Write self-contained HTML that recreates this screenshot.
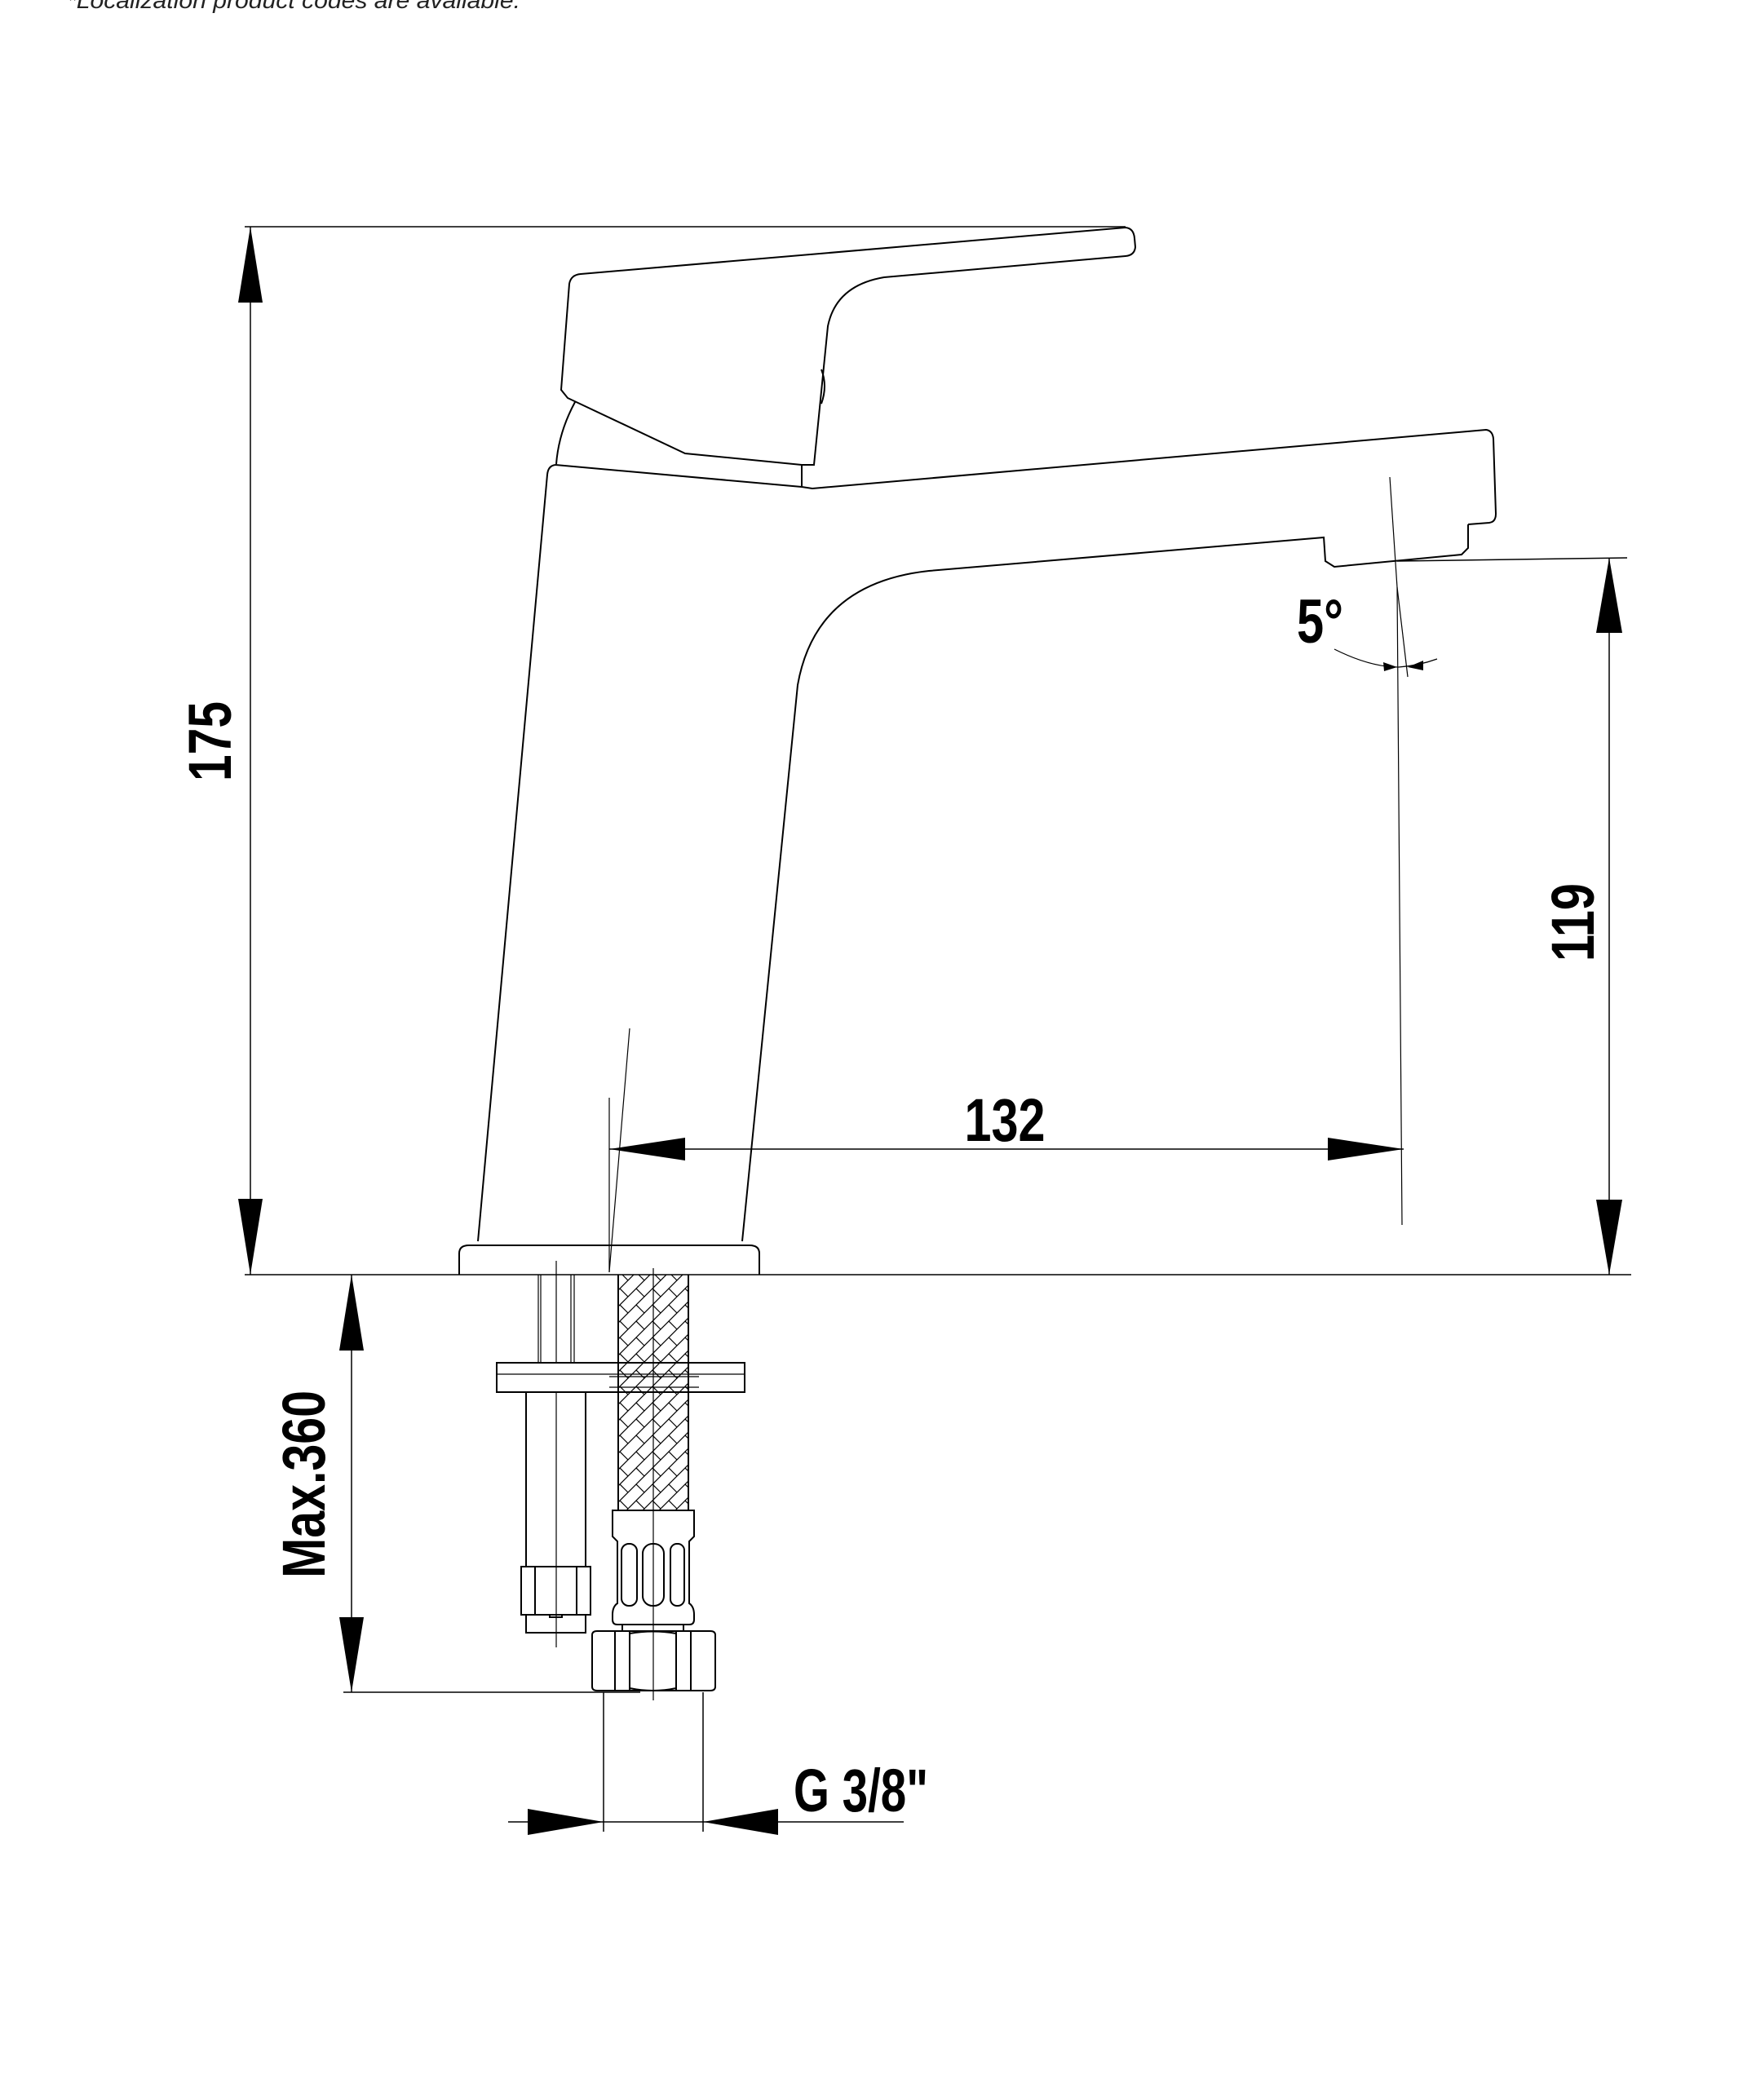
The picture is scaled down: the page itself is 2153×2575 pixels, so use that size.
<!DOCTYPE html>
<html><head><meta charset="utf-8"><style>
html,body{margin:0;padding:0;background:#fff;}
svg{display:block;}
.t{font-family:"Liberation Sans Narrow","Liberation Sans",sans-serif;font-weight:bold;fill:#000;}
</style></head><body>
<svg width="2153" height="2575" viewBox="0 0 2153 2575" xmlns="http://www.w3.org/2000/svg">
<defs>
<pattern id="hx" width="20" height="20" patternUnits="userSpaceOnUse">
<path d="M0 20 L20 0 M-5 5 L5 -5 M15 25 L25 15" stroke="#000" stroke-width="1.2"/>
<path d="M0 0 L10 10" stroke="#000" stroke-width="1.2"/>
</pattern>
</defs>
<text x="82" y="10" font-family="Liberation Sans, sans-serif" font-style="italic" font-size="28" fill="#222" textLength="556" lengthAdjust="spacingAndGlyphs">*Localization product codes are available.</text>
<g fill="none" stroke="#000" stroke-width="2">
<line x1="300" y1="278" x2="1380" y2="278" stroke-width="1.5"/>
<line x1="307" y1="278" x2="307" y2="1563" stroke-width="1.5"/>
<line x1="300" y1="1563" x2="2000" y2="1563" stroke-width="1.5"/>
<path d="M712 336 L1380 279 Q1390 280 1391 292 L1392 303 Q1391 313 1380 314 L1084 340 Q1025 350 1015 400 L998 570 L983 570 L840 556 L696 488 L688 478 L698 348 Q700 337 712 336 Z"/>
<line x1="983" y1="570" x2="983" y2="597"/>
<path d="M1007 453 q8 20 0 42" />
<path d="M705 493 Q685 530 682 569"/>
<path d="M681 570 Q672 571 671 582 L586 1522"/>
<path d="M681 570 L983 597 L996 599 L1822 527 Q1830 528 1831 538 L1834 630 Q1834 640 1826 641 L1800 643"/>
<path d="M1800 643 L1800 672 L1792 680 L1636 695 L1625 688 L1623 658"/>
<path d="M1623 659 L1139 700 Q1000 715 978 840 L910 1522"/>
<path d="M563 1563 L563 1537 Q563 1527 575 1527 L919 1527 Q931 1527 931 1537 L931 1563"/>
<line x1="1713" y1="688" x2="1995" y2="684" stroke-width="1.5"/>
<line x1="1973" y1="684" x2="1973" y2="1563" stroke-width="1.5"/>
<path d="M1704 585 L1713 720 L1719 1502" stroke-width="1.2"/>
<line x1="1713" y1="720" x2="1726" y2="830" stroke-width="1.2"/>
<path d="M1636 796 Q1680 818 1715 818 Q1740 816 1762 808" stroke-width="1.2"/>
<line x1="747" y1="1409" x2="1721" y2="1409" stroke-width="1.5"/>
<line x1="772" y1="1261" x2="747" y2="1560" stroke-width="1.2"/>
<line x1="747" y1="1346" x2="747" y2="1560" stroke-width="1.2"/>
<line x1="431" y1="1563" x2="431" y2="2075" stroke-width="1.5"/>
<line x1="421" y1="2075" x2="785" y2="2075" stroke-width="1.5"/>
<line x1="660" y1="1563" x2="660" y2="1671" stroke-width="1.2"/>
<line x1="663" y1="1563" x2="663" y2="1671" stroke-width="1.2"/>
<line x1="700" y1="1563" x2="700" y2="1671" stroke-width="1.2"/>
<line x1="704" y1="1563" x2="704" y2="1671" stroke-width="1.2"/>
<line x1="682" y1="1546" x2="682" y2="2020" stroke-width="1.2"/>
<rect x="758" y="1563" width="86" height="289" fill="url(#hx)" stroke="none"/>
<rect x="609" y="1671" width="304" height="36" fill="#fff"/>
<line x1="609" y1="1685" x2="913" y2="1685" stroke-width="1.2"/>
<rect x="758" y="1671" width="86" height="36" fill="url(#hx)" stroke="none"/>
<line x1="747" y1="1688" x2="857" y2="1688" stroke-width="1.2"/>
<line x1="747" y1="1701" x2="857" y2="1701" stroke-width="1.2"/>
<line x1="758" y1="1563" x2="758" y2="1852"/>
<line x1="844" y1="1563" x2="844" y2="1852"/>
<line x1="801" y1="1555" x2="801" y2="2085" stroke-width="1.2"/>
<line x1="645" y1="1707" x2="645" y2="1921"/>
<line x1="718" y1="1707" x2="718" y2="1921"/>
<rect x="639" y="1921" width="85" height="59"/>
<line x1="656" y1="1921" x2="656" y2="1980"/>
<line x1="707" y1="1921" x2="707" y2="1980"/>
<path d="M645 1980 L645 2002 L718 2002 L718 1980 M674 1980 L674 1983 L689 1983 L689 1980"/>
<path d="M751 1852 L851 1852 L851 1884 L845 1890 L845 1966 Q851 1970 851 1980 L851 1986 Q851 1992 845 1992 L757 1992 Q751 1992 751 1986 L751 1980 Q751 1970 757 1966 L757 1890 L751 1884 Z"/>
<rect x="762" y="1893" width="19" height="76" rx="9"/>
<rect x="788" y="1893" width="26" height="76" rx="12"/>
<rect x="822" y="1893" width="17" height="76" rx="8"/>
<rect x="763" y="1992" width="75" height="8"/>
<path d="M726 2005 Q726 2000 732 2000 L871 2000 Q877 2000 877 2005 L877 2068 Q877 2073 871 2073 L732 2073 Q726 2073 726 2068 Z"/>
<line x1="754" y1="2000" x2="754" y2="2073"/>
<line x1="847" y1="2000" x2="847" y2="2073"/>
<path d="M772 2000 L772 2073 M829 2000 L829 2073 M772 2003 Q801 1998 829 2003 M772 2070 Q801 2076 829 2070"/>
<line x1="740" y1="2075" x2="740" y2="2246" stroke-width="1.5"/>
<line x1="862" y1="2075" x2="862" y2="2246" stroke-width="1.5"/>
<line x1="623" y1="2234" x2="1108" y2="2234" stroke-width="1.5"/>
</g>
<g fill="#000">
<polygon points="307,278 292,371 322,371"/>
<polygon points="307,1563 292,1470 322,1470"/>
<polygon points="1973,684 1957,776 1989,776"/>
<polygon points="1973,1563 1957,1471 1989,1471"/>
<polygon points="747,1409 840,1395 840,1423"/>
<polygon points="1721,1409 1628,1395 1628,1423"/>
<polygon points="1713,818 1696,812 1697,823"/>
<polygon points="1726,818 1745,810 1745,822"/>
<polygon points="431,1563 416,1656 446,1656"/>
<polygon points="431,2075 416,1983 446,1983"/>
<polygon points="740,2234 647,2218 647,2250"/>
<polygon points="862,2234 954,2218 954,2250"/>
</g>
<text class="t" x="0" y="0" font-size="74" text-anchor="middle" textLength="98" lengthAdjust="spacingAndGlyphs" transform="translate(283 909) rotate(-90)">175</text>
<text class="t" x="0" y="0" font-size="74" text-anchor="middle" textLength="96" lengthAdjust="spacingAndGlyphs" transform="translate(1954 1131) rotate(-90)">119</text>
<text class="t" x="1232" y="1399" font-size="74" text-anchor="middle" textLength="99" lengthAdjust="spacingAndGlyphs">132</text>
<text class="t" x="1590" y="788" font-size="76" textLength="57" lengthAdjust="spacingAndGlyphs">5°</text>
<text class="t" x="0" y="0" font-size="74" text-anchor="middle" transform="translate(398 1820) rotate(-90)" textLength="230" lengthAdjust="spacingAndGlyphs">Max.360</text>
<text class="t" x="973" y="2221" font-size="74" textLength="165" lengthAdjust="spacingAndGlyphs">G 3/8"</text>
</svg>
</body></html>
